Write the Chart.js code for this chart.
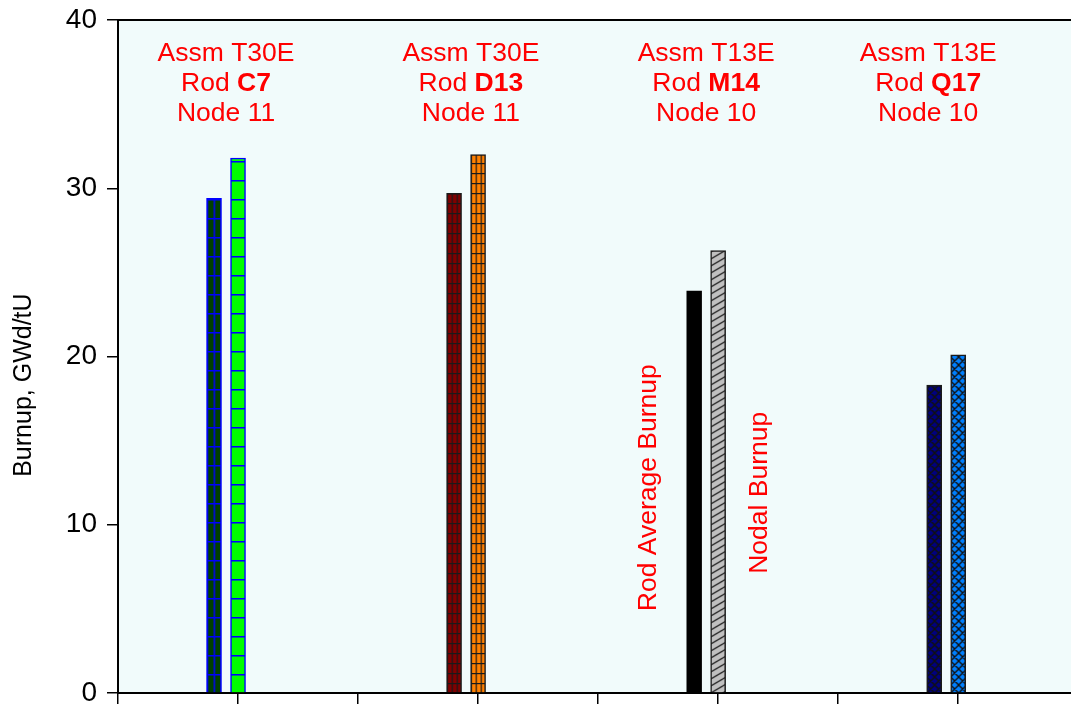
<!DOCTYPE html>
<html>
<head>
<meta charset="utf-8">
<script src="https://cdn.jsdelivr.net/npm/chart.js"></script>
<style>
  html, body { margin: 0; padding: 0; background: #fff; }
  #wrap { width: 1071px; height: 705px; }
</style>
</head>
<body>
<div id="wrap"><canvas id="burnup-chart" width="1071" height="705"></canvas></div>
<script>
// data
const rods = ["C7", "D13", "M14", "Q17"];
const assemblies = ["T30E", "T30E", "T13E", "T13E"];
const nodes = [11, 11, 10, 10];
const rodAverage = [29.4, 29.7, 23.9, 18.3];
const nodalBurnup = [31.8, 32.0, 26.3, 20.1];
const rodAverageX = [0.8, 2.8, 4.8, 6.8];
const nodalX = [1, 3, 5, 7];
const labelX = [0.9, 2.94, 4.9, 6.75];
const yTicks = [0, 10, 20, 30, 40];
const seriesNames = ["Rod Average Burnup", "Nodal Burnup"];
const seriesLabelX = [4.48, 5.41];
const seriesLabelY = [12.2, 11.9];
const yTitle = "Burnup, GWd/tU";

const FONT = "'Liberation Sans', Arial, sans-serif";
const BAR_W = 15;
const X_MAX = 7.94;
const LABEL_TOP = 37.55;   // baseline of first label line, in burnup units
const LINE_H = 30;

function tile(w, h, bg, draw) {
    const c = document.createElement("canvas");
    c.width = w; c.height = h;
    const g = c.getContext("2d");
    g.fillStyle = bg;
    g.fillRect(0, 0, w, h);
    if (draw) draw(g, w, h);
    return c;
}
function grid(w, h, bg, col, lw, vertical) {
    return () => tile(w, h, bg, g => {
        g.fillStyle = col;
        g.fillRect(0, 0, w, lw);
        if (vertical) g.fillRect(0, 0, lw, h);
    });
}
function segs(g, list) {
    g.beginPath();
    list.forEach(s => { g.moveTo(s[0], s[1]); g.lineTo(s[2], s[3]); });
    g.stroke();
}
function hatch(w, h, bg, col) {
    return () => tile(w, h, bg, g => {
        g.strokeStyle = col; g.lineWidth = 1.3;
        segs(g, [[0, h, w, 0], [-w, h, 0, 0], [w, h, 2 * w, 0], [0, 2 * h, w, h], [0, 0, w, -h]]);
    });
}
function diamonds(w, h, bg, col) {
    return () => tile(w, h, bg, g => {
        g.strokeStyle = col; g.lineWidth = 1.4;
        segs(g, [[0, h, w, 0], [-w, h, 0, 0], [w, h, 2 * w, 0],
                 [0, 0, w, h], [-w, 0, 0, h], [w, 0, 2 * w, h]]);
    });
}

const avgFills = [
    grid(7, 19, "#004000", "#0000ff", 1.5, true),
    grid(5, 10, "#800000", "#1a1a1a", 1.2, true),
    () => tile(4, 4, "#000000"),
    diamonds(8, 8, "#000080", "#111111")
];
const nodalFills = [
    grid(15, 19, "#00ff00", "#0000ff", 1.5, false),
    grid(5, 10, "#ff8000", "#1a1a1a", 1.2, true),
    hatch(12, 7, "#c0c0c0", "#222222"),
    diamonds(8, 8, "#0080ff", "#111111")
];

function barFill(fills) {
    return (c) => {
        const chart = c.chart;
        if (c.type !== "data" || !chart.chartArea || !chart.scales.x) return "#888888";
        const pat = chart.ctx.createPattern(fills[c.dataIndex](), "repeat");
        const left = chart.scales.x.getPixelForValue(c.parsed.x) - BAR_W / 2;
        pat.setTransform(new DOMMatrix([1, 0, 0, 1, left, chart.chartArea.bottom]));
        return pat;
    };
}

const annotate = {
    id: "annotate",
    beforeDraw(chart) {
        const { ctx, chartArea: a } = chart;
        ctx.save();
        ctx.fillStyle = "#f1fbfb";
        ctx.fillRect(a.left, a.top, a.right - a.left, a.bottom - a.top);
        ctx.restore();
    },
    afterDraw(chart) {
        const { ctx } = chart;
        const y = chart.scales.y;
        // y axis title, sits a little below the axis centre as in the original
        ctx.save();
        ctx.fillStyle = "#000";
        ctx.font = "25px " + FONT;
        ctx.textAlign = "center";
        ctx.textBaseline = "alphabetic";
        ctx.translate(31, y.getPixelForValue(18.3));
        ctx.rotate(-Math.PI / 2);
        ctx.fillText(yTitle, 0, 0);
        ctx.restore();
    },
    afterDatasetsDraw(chart) {
        const { ctx } = chart;
        const x = chart.scales.x, y = chart.scales.y;
        const normal = "26.5px " + FONT, bold = "bold 26.5px " + FONT;
        ctx.save();
        ctx.fillStyle = "#ff0000";
        ctx.textBaseline = "alphabetic";
        rods.forEach((rod, i) => {
            const cx = x.getPixelForValue(labelX[i]);
            const base = y.getPixelForValue(LABEL_TOP);
            ctx.font = normal;
            ctx.textAlign = "center";
            ctx.fillText("Assm " + assemblies[i], cx, base);
            ctx.fillText("Node " + nodes[i], cx, base + 2 * LINE_H);
            const w1 = ctx.measureText("Rod ").width;
            ctx.font = bold;
            const w2 = ctx.measureText(rod).width;
            const sx = cx - (w1 + w2) / 2;
            ctx.textAlign = "left";
            ctx.fillText(rod, sx + w1, base + LINE_H);
            ctx.font = normal;
            ctx.fillText("Rod ", sx, base + LINE_H);
        });
        seriesNames.forEach((name, k) => {
            ctx.save();
            ctx.translate(x.getPixelForValue(seriesLabelX[k]), y.getPixelForValue(seriesLabelY[k]));
            ctx.rotate(-Math.PI / 2);
            ctx.font = normal;
            ctx.textAlign = "center";
            ctx.fillText(name, 0, 0);
            ctx.restore();
        });
        ctx.restore();
    }
};

new Chart(document.getElementById("burnup-chart"), {
    type: "bar",
    data: {
        datasets: [
            {
                label: seriesNames[0],
                xAxisID: "x",
                data: rodAverage.map((v, i) => ({ x: rodAverageX[i], y: v })),
                backgroundColor: barFill(avgFills),
                borderColor: ["#0000ff", "#1a1a1a", "#000000", "#1a1a1a"],
                borderWidth: 1.5
            }, {
                label: seriesNames[1],
                xAxisID: "x",
                data: nodalBurnup.map((v, i) => ({ x: nodalX[i], y: v })),
                backgroundColor: barFill(nodalFills),
                borderColor: ["#0000ff", "#1a1a1a", "#1a1a1a", "#1a1a1a"],
                borderWidth: 1.5
            }
        ]
    },
    options: {
        responsive: false,
        animation: false,
        devicePixelRatio: 1,
        grouped: false,
        barThickness: BAR_W,
        layout: { padding: { top: 20, right: 0, bottom: 0, left: 0 } },
        plugins: { legend: { display: false }, tooltip: { enabled: false } },
        scales: {
            x: {
                type: "linear",
                position: "bottom",
                offset: false,
                min: 0, max: X_MAX,
                ticks: { display: false, stepSize: 1, includeBounds: false },
                grid: { offset: false, drawOnChartArea: false, tickLength: 11, color: "#000", lineWidth: 1.5 },
                border: { color: "#000", width: 2 },
                afterFit(s) { s.height = 12; }
            },
            xTop: {
                type: "linear",
                axis: "x",
                position: "top",
                offset: false,
                min: 0, max: X_MAX,
                ticks: { display: false },
                grid: { offset: false, drawOnChartArea: false, drawTicks: false },
                border: { color: "#000", width: 2 },
                afterFit(s) { s.height = 0; }
            },
            y: {
                min: yTicks[0], max: yTicks[yTicks.length - 1],
                ticks: { stepSize: yTicks[1] - yTicks[0], color: "#000", padding: 10,
                         font: { family: FONT, size: 28 } },
                grid: { drawOnChartArea: false, tickLength: 11, color: "#000", lineWidth: 1.5 },
                border: { color: "#000", width: 2 },
                afterFit(s) { s.width = 118; s.paddingTop = 0; s.paddingBottom = 0; }
            }
        }
    },
    plugins: [annotate]
});
</script>
</body>
</html>
